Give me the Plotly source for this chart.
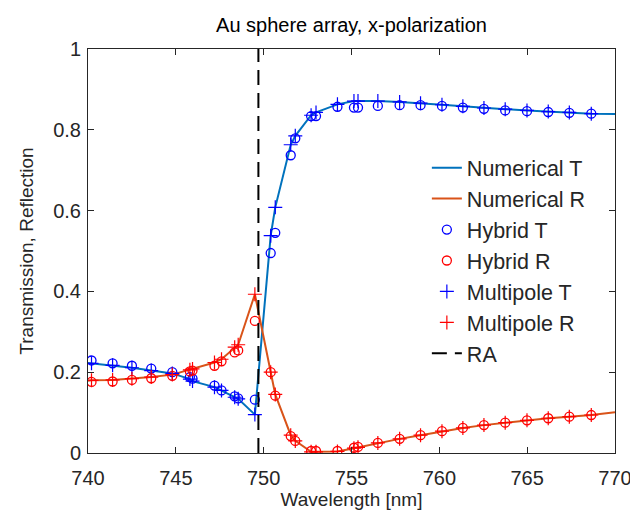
import plotly.graph_objects as go

# ---- data ----
wl = [740.2, 741.4, 742.5, 743.6, 744.8, 745.8, 745.95, 747.2, 747.6, 748.35, 748.55,
      749.5, 750.4, 750.66, 751.54, 751.8, 752.7, 752.98, 754.2, 755.14, 755.37, 756.5,
      757.74, 758.93, 760.15, 761.34, 762.54, 763.75, 764.99, 766.2, 767.4, 768.65]

hybrid_T = [0.229, 0.222, 0.216, 0.209, 0.200, 0.188, 0.184, 0.167, 0.155, 0.140, 0.135,
            0.132, 0.495, 0.545, 0.737, 0.779, 0.834, 0.834, 0.857, 0.855, 0.855, 0.859,
            0.861, 0.861, 0.859, 0.855, 0.852, 0.848, 0.846, 0.844, 0.842, 0.840]

multipole_T = [0.222, 0.217, 0.211, 0.204, 0.197, 0.183, 0.178, 0.163, 0.155, 0.138, 0.134,
               0.095, 0.538, 0.608, 0.763, 0.785, 0.836, 0.843, 0.863, 0.871, 0.871, 0.871,
               0.869, 0.866, 0.862, 0.858, 0.854, 0.851, 0.848, 0.845, 0.843, 0.840]

hybrid_R = [0.176, 0.177, 0.181, 0.185, 0.191, 0.202, 0.204, 0.216, 0.227, 0.249, 0.254,
            0.327, 0.200, 0.142, 0.042, 0.030, 0.005, 0.005, 0.005, 0.013, 0.015, 0.025,
            0.035, 0.044, 0.054, 0.062, 0.069, 0.075, 0.081, 0.086, 0.090, 0.094]

multipole_R = [0.180, 0.181, 0.184, 0.188, 0.194, 0.206, 0.208, 0.224, 0.232, 0.262, 0.268,
               0.393, 0.200, 0.145, 0.044, 0.030, 0.003, 0.003, 0.004, 0.012, 0.014, 0.025,
               0.035, 0.044, 0.054, 0.062, 0.069, 0.075, 0.081, 0.086, 0.090, 0.094]

num_wl = [740.0] + wl + [770.0]
numerical_T = [0.223] + multipole_T + [0.839]
numerical_R = [0.179] + multipole_R + [0.101]

ra_wl = 749.7
xticks = [740, 745, 750, 755, 760, 765, 770]
yticks = [0, 0.2, 0.4, 0.6, 0.8, 1]

FONT = "Liberation Sans, Arial, Helvetica, sans-serif"
AXC = "#262626"

fig = go.Figure()
fig.add_trace(go.Scatter(x=num_wl, y=numerical_T, mode="lines", name="Numerical T",
                         line=dict(color="#0072BD", width=2)))
fig.add_trace(go.Scatter(x=num_wl, y=numerical_R, mode="lines", name="Numerical R",
                         line=dict(color="#D95319", width=2)))
fig.add_trace(go.Scatter(x=wl, y=hybrid_T, mode="markers", name="Hybrid T",
                         marker=dict(symbol="circle-open", size=9, color="#0000FF",
                                     line=dict(width=1.3, color="#0000FF"))))
fig.add_trace(go.Scatter(x=wl, y=hybrid_R, mode="markers", name="Hybrid R",
                         marker=dict(symbol="circle-open", size=9, color="#FF0000",
                                     line=dict(width=1.3, color="#FF0000"))))
fig.add_trace(go.Scatter(x=wl, y=multipole_T, mode="markers", name="Multipole T",
                         marker=dict(symbol="cross-thin-open", size=10, color="#0000FF",
                                     line=dict(width=1.2, color="#0000FF"))))
fig.add_trace(go.Scatter(x=wl, y=multipole_R, mode="markers", name="Multipole R",
                         marker=dict(symbol="cross-thin-open", size=10, color="#FF0000",
                                     line=dict(width=1.2, color="#FF0000"))))
fig.add_trace(go.Scatter(x=[ra_wl, ra_wl], y=[0, 1], mode="lines", name="RA",
                         line=dict(color="black", width=2, dash="15px,8px")))

axis_common = dict(showline=True, linecolor=AXC, linewidth=1, mirror="ticks",
                   ticks="inside", ticklen=6, tickcolor=AXC, showgrid=False,
                   zeroline=False, tickfont=dict(size=20, color=AXC, family=FONT))

fig.update_layout(
    width=638, height=510,
    margin=dict(l=80, r=31, t=41, b=63),
    paper_bgcolor="white", plot_bgcolor="white",
    font=dict(family=FONT, color=AXC),
    title=dict(text="Au sphere array, x-polarization", x=0.5, xanchor="center",
               xref="paper", y=1 - 17 / 510, yanchor="middle",
               font=dict(size=20, color="black", family=FONT)),
    xaxis=dict(range=[740, 770], tickvals=xticks, ticktext=[str(v) for v in xticks],
               ticklabelstandoff=7,
               title=dict(text="Wavelength [nm]", font=dict(size=19, color=AXC), standoff=4),
               **axis_common),
    yaxis=dict(range=[0, 1], tickvals=yticks, ticktext=["0", "0.2", "0.4", "0.6", "0.8", "1"],
               ticklabelstandoff=2,
               title=dict(text="Transmission, Reflection", font=dict(size=19, color=AXC), standoff=14),
               **axis_common),
    legend=dict(x=0.643, xanchor="left", y=0.757, yanchor="top",
                bgcolor="rgba(0,0,0,0)", borderwidth=0,
                font=dict(size=21.5, color=AXC, family=FONT), tracegroupgap=0),
    showlegend=True,
)

fig.write_html("out.html")
